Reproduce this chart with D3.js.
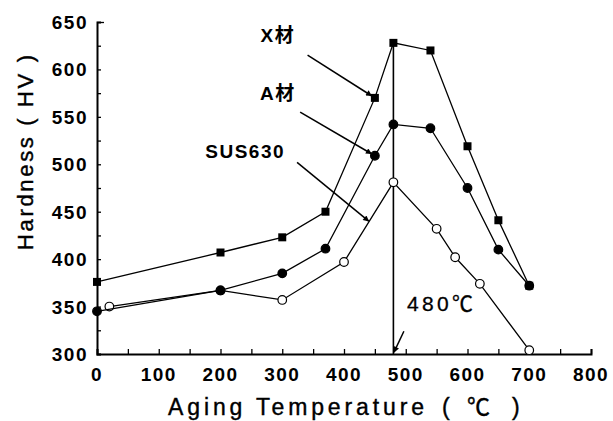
<!DOCTYPE html>
<html>
<head>
<meta charset="utf-8">
<script src="https://cdn.jsdelivr.net/npm/d3@7"></script>
<style>
  body { margin: 0; background: #fff; }
  text { font-family: "Liberation Sans", Arial, "Noto Sans CJK JP", sans-serif; fill: #000; }
</style>
</head>
<body>
<script>
const width = 613,
  height = 421;

// aging temperature (C) and hardness (HV)
const xTemps = [0, 200, 300, 370, 450, 480, 540, 600, 650, 700];
const xHardness = [376, 407, 423, 450, 570, 628, 620, 519, 441, 372];

const aTemps = [0, 200, 300, 370, 450, 480, 540, 600, 650, 700];
const aHardness = [345, 367, 385, 411, 509, 542, 538, 475, 410, 372];

const susTemps = [20, 200, 300, 400, 480, 550, 580, 620, 700];
const susHardness = [350, 367, 357, 397, 481, 432, 402, 374, 304];

const xTicks = [0, 100, 200, 300, 400, 500, 600, 700, 800];
const yTicks = [300, 350, 400, 450, 500, 550, 600, 650];

const peakTemp = 480;

const x = d3.scaleLinear().domain([0, 800]).range([97, 591]);
const y = d3.scaleLinear().domain([300, 650]).range([354, 22]);

const svg = d3.select('body').append('svg')
  .attr('width', width)
  .attr('height', height);

const defs = svg.append('defs');
defs.append('marker')
  .attr('id', 'arrow')
  .attr('viewBox', '0 0 10 10')
  .attr('refX', 9)
  .attr('refY', 5)
  .attr('markerWidth', 7)
  .attr('markerHeight', 6)
  .attr('markerUnits', 'userSpaceOnUse')
  .attr('orient', 'auto')
  .append('path')
  .attr('d', 'M0,0L10,5L0,10Z')
  .attr('fill', '#000');

// axes
const gx = svg.append('g')
  .attr('transform', `translate(0,${y(300)})`)
  .call(d3.axisBottom(x)
    .tickValues(d3.range(0, 801, 50))
    .tickSize(-5)
    .tickFormat(''));
gx.select('.domain').attr('stroke-width', 2);
gx.selectAll('.tick line').attr('stroke-width', 1.3);

const gy = svg.append('g')
  .attr('transform', `translate(${x(0)},0)`)
  .call(d3.axisLeft(y)
    .tickValues(d3.range(300, 651, 25))
    .tickSize(-4)
    .tickFormat(''));
gy.select('.domain').attr('stroke-width', 2);
gy.selectAll('.tick line').attr('stroke-width', 1.3);
gy.selectAll('.tick').filter(d => d === 650).select('line').attr('x2', 7);

svg.append('g')
  .selectAll('text')
  .data(xTicks)
  .enter().append('text')
  .attr('x', d => x(d))
  .attr('y', y(300) + 27)
  .attr('text-anchor', 'middle')
  .attr('font-size', 19)
  .attr('font-weight', 'bold')
  .attr('letter-spacing', 1.5)
  .text(d => d);

svg.append('g')
  .selectAll('text')
  .data(yTicks)
  .enter().append('text')
  .attr('x', x(0) - 9)
  .attr('y', d => y(d) + 7)
  .attr('text-anchor', 'end')
  .attr('font-size', 19)
  .attr('font-weight', 'bold')
  .attr('letter-spacing', 1.5)
  .text(d => d);

// x title
const xt = svg.append('text')
  .attr('y', 415)
  .attr('font-size', 23)
  .attr('stroke', '#000')
  .attr('stroke-width', 0.4);
xt.append('tspan')
  .attr('x', 168)
  .attr('textLength', 256)
  .attr('lengthAdjust', 'spacing')
  .text('Aging Temperature');
xt.append('tspan').attr('x', 442).text('(');
xt.append('tspan').attr('x', 467).text('\u2103');
xt.append('tspan').attr('x', 512).text(')');

svg.append('text')
  .attr('transform', 'translate(33,250) rotate(-90)')
  .attr('font-size', 22)
  .attr('textLength', 195)
  .attr('lengthAdjust', 'spacing')
  .attr('stroke', '#000')
  .attr('stroke-width', 0.4)
  .text('Hardness ( HV )');

// vertical line at peak temperature
svg.append('line')
  .attr('x1', x(peakTemp)).attr('x2', x(peakTemp))
  .attr('y1', y(300)).attr('y2', y(xHardness[xTemps.indexOf(peakTemp)]))
  .attr('stroke', '#000')
  .attr('stroke-width', 1.6);

const line = d3.line()
  .x(d => x(d[0]))
  .y(d => y(d[1]));

const series = [
  { temps: susTemps, vals: susHardness, shape: 'open' },
  { temps: aTemps, vals: aHardness, shape: 'circle' },
  { temps: xTemps, vals: xHardness, shape: 'square' }
];

series.forEach(s => {
  const pts = s.temps.map((t, i) => [t, s.vals[i]]);
  svg.append('path')
    .datum(pts)
    .attr('fill', 'none')
    .attr('stroke', '#000')
    .attr('stroke-width', 1.3)
    .attr('d', line);

  const g = svg.append('g');
  if (s.shape === 'square') {
    g.selectAll('rect')
      .data(pts)
      .enter().append('rect')
      .attr('x', d => x(d[0]) - 4)
      .attr('y', d => y(d[1]) - 4)
      .attr('width', 8)
      .attr('height', 8)
      .attr('fill', '#000');
  } else {
    g.selectAll('circle')
      .data(pts)
      .enter().append('circle')
      .attr('cx', d => x(d[0]))
      .attr('cy', d => y(d[1]))
      .attr('r', 4.3)
      .attr('fill', s.shape === 'open' ? '#fff' : '#000')
      .attr('stroke', '#000')
      .attr('stroke-width', 1.2);
  }
});

// in the source the last point shows as a round dot
svg.append('circle')
  .attr('cx', x(700)).attr('cy', y(372))
  .attr('r', 4.3)
  .attr('fill', '#000');

// labels with arrows, positions in data units
const labels = [
  { text: 'X\u6750', tx: 293, ty: 636, from: [341, 615], to: [450, 570] },
  { text: 'A\u6750', tx: 293, ty: 575, from: [329, 555], to: [450, 509] },
  { text: 'SUS630', tx: 240, ty: 514, from: [324, 502], to: [440, 440] }
];

labels.forEach(l => {
  svg.append('text')
    .attr('x', x(l.tx))
    .attr('y', y(l.ty) + 7)
    .attr('text-anchor', 'middle')
    .attr('font-size', 19)
    .attr('font-weight', 'bold')
    .attr('letter-spacing', 1.5)
    .text(l.text);

  const x1 = x(l.from[0]), y1 = y(l.from[1]);
  let x2 = x(l.to[0]), y2 = y(l.to[1]);
  const dx = x2 - x1, dy = y2 - y1, len = Math.hypot(dx, dy);
  const pull = l.text === 'SUS630' ? 0 : 4;
  x2 -= dx / len * pull;
  y2 -= dy / len * pull;
  svg.append('line')
    .attr('x1', x1).attr('y1', y1)
    .attr('x2', x2).attr('y2', y2)
    .attr('stroke', '#000')
    .attr('stroke-width', 1.5)
    .attr('marker-end', 'url(#arrow)');
});

// 480 C label
svg.append('text')
  .attr('x', x(502))
  .attr('y', y(345))
  .attr('font-size', 21)
  .attr('textLength', 66)
  .attr('lengthAdjust', 'spacing')
  .attr('stroke', '#000')
  .attr('stroke-width', 0.3)
  .text('480\u2103');

svg.append('line')
  .attr('x1', x(497)).attr('y1', y(324))
  .attr('x2', x(481)).attr('y2', y(302))
  .attr('stroke', '#000')
  .attr('stroke-width', 1.5)
  .attr('marker-end', 'url(#arrow)');
</script>
</body>
</html>
